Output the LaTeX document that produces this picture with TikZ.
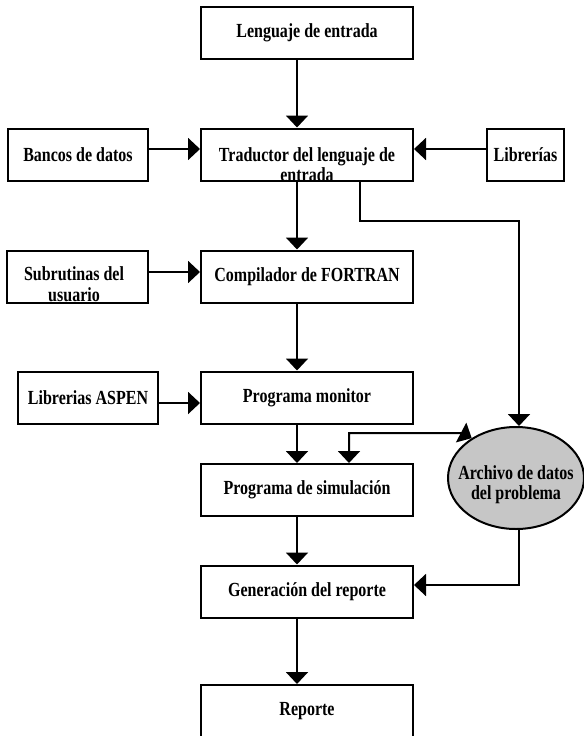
\documentclass[tikz,border=0pt]{standalone}
\usepackage{fontspec}
\setmainfont{Liberation Serif}[FakeStretch=0.8]
\usetikzlibrary{arrows.meta,shapes.geometric}
\begin{document}
\begin{tikzpicture}[x=0.75pt,y=-0.75pt,
  txt/.style={font=\fontsize{15}{15.5}\selectfont\bfseries},
  box/.style={draw, line width=1.5pt, minimum height=39pt, inner sep=0pt, txt},
  mainbox/.style={box, minimum width=159pt},
  arr/.style={line width=1.5pt, -{Triangle[width=16.5pt,length=9pt]}},
  arrboth/.style={line width=1.5pt, {Triangle[width=16.5pt,length=9pt]}-{Triangle[width=16.5pt,length=9pt]}},
]
\path[use as bounding box] (0,0) rectangle (584,736);

% main column
\node[mainbox] (leng) at (307,33) {Lenguaje de entrada};
\node[mainbox, label={[txt, align=center, yshift=-7.5pt]center:Traductor del lenguaje de\\entrada}] (trad) at (307,154.5) {};
\node[mainbox] (comp) at (307,276.5) {Compilador de FORTRAN};
\node[mainbox] (mon) at (307,397.5) {Programa monitor};
\node[mainbox] (sim) at (307,490) {Programa de simulación};
\node[mainbox] (gen) at (307,591.5) {Generación del reporte};
\node[mainbox] (rep) at (307,711) {Reporte};

% side boxes
\node[box, minimum width=105pt] (banc) at (78,154.5) {Bancos de datos};
\node[box, minimum width=57.75pt] (libr) at (525.5,154.5) {Librerías};
\node[box, minimum width=105.75pt, label={[txt, align=center, yshift=-5.6pt, xshift=-2.6pt]center:Subrutinas del\\usuario}] (sub) at (77.5,276.5) {};
\node[box, minimum width=105pt] (aspen) at (88,397.5) {Librerias ASPEN};

% data file ellipse
\node[ellipse, draw, line width=1.5pt, fill=gray!45, minimum width=102pt, minimum height=76.5pt, inner sep=0pt,
  label={[txt, align=center, yshift=-5pt]center:Archivo de datos\\del problema}] (ell) at (516,478) {};

% helper coordinates
\coordinate (mx) at (297,0);
\coordinate (tx) at (360,0);
\coordinate (sx) at (349,0);
\coordinate (rx) at (519,0);
\coordinate (yb) at (0,149);
\coordinate (ys) at (0,272);
\coordinate (ya) at (0,403);
\coordinate (y1) at (0,221);
\coordinate (y2) at (0,433);
\coordinate (y3) at (0,585);
\coordinate (bend) at (462,433);

% main flow
\draw[arr] (leng.south -| mx) -- (trad.north -| mx);
\draw[arr] (trad.south -| mx) -- (comp.north -| mx);
\draw[arr] (comp.south -| mx) -- (mon.north -| mx);
\draw[arr] (mon.south -| mx) -- (sim.north -| mx);
\draw[arr] (sim.south -| mx) -- (gen.north -| mx);
\draw[arr] (gen.south -| mx) -- (rep.north -| mx);

% side inputs
\draw[arr] (banc.east |- yb) -- (trad.west |- yb);
\draw[arr] (libr.west |- yb) -- (trad.east |- yb);
\draw[arr] (sub.east |- ys) -- (comp.west |- ys);
\draw[arr] (aspen.east |- ya) -- (mon.west |- ya);

% data file connections
\draw[arr] (trad.south -| tx) |- (rx |- y1) -- (ell.north -| rx);
\draw[arrboth] (sim.north -| sx) -- (sx |- y2) -- (bend) -- (ell.138);
\draw[arr] (ell.south -| rx) |- (gen.east |- y3);
\end{tikzpicture}
\end{document}
